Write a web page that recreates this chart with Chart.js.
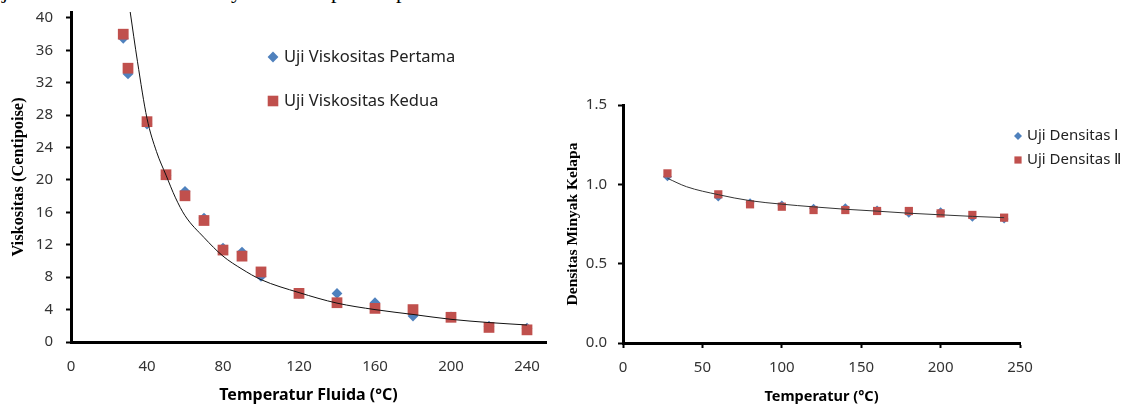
<!DOCTYPE html>
<html>
<head>
<meta charset="utf-8">
<script src="https://cdn.jsdelivr.net/npm/chart.js@4.4.1/dist/chart.umd.min.js"></script>
<style>
  body { margin: 0; background: #fff; width: 1126px; height: 407px; overflow: hidden; position: relative; }
  .box { position: absolute; top: 0; }
  .frag { position: absolute; top: -20px; font-family: "Liberation Serif", serif; font-size: 22px; line-height: 22px; color: #000; }
</style>
</head>
<body>
<!-- tail of the paragraph line above the figure -->
<span class="frag" style="left:2px">j</span>
<span class="frag" style="left:231px">y</span>
<span class="frag" style="left:331px">p</span>
<span class="frag" style="left:396px">p</span>

<div class="box" style="left:0"><canvas id="viscChart" width="560" height="407"></canvas></div>
<div class="box" style="left:560px"><canvas id="densChart" width="566" height="407"></canvas></div>

<script>
// viscosity test (left chart)
let viscTemp   = [27.5, 30, 40, 50, 60, 70, 80, 90, 100, 120, 140, 160, 180, 200, 220, 240];
let viscFirst  = [37.5, 33.1, 26.9, 20.6, 18.6, 15.3, 11.6, 11.1, 8.1, 6.0, 6.0, 4.85, 3.2, 3.1, 1.95, 1.7];
let viscSecond = [38.0, 33.8, 27.2, 20.65, 18.05, 15.0, 11.35, 10.6, 8.65, 6.0, 4.85, 4.15, 4.0, 3.05, 1.8, 1.5];
// trend curve
let viscFitTemp = [31, 35, 40, 45, 50, 55, 60, 70, 80, 90, 100, 120, 140, 160, 180, 200, 220, 240];
let viscFit     = [41.0, 34.6, 27.6, 23.5, 20.6, 17.8, 15.6, 12.9, 10.6, 9.0, 7.7, 6.1, 4.8, 4.0, 3.4, 2.8, 2.4, 2.1];
let viscXTicks = [0, 40, 80, 120, 160, 200, 240];

// density test (right chart)
let densTemp   = [28, 60, 80, 100, 120, 140, 160, 180, 200, 220, 240];
let densFirst  = [1.048, 0.92, 0.884, 0.87, 0.849, 0.853, 0.838, 0.817, 0.827, 0.792, 0.781];
let densSecond = [1.069, 0.937, 0.874, 0.859, 0.838, 0.838, 0.832, 0.832, 0.817, 0.807, 0.79];
let densFitTemp = [28, 40, 60, 80, 100, 120, 140, 160, 180, 200, 220, 240];
let densFit     = [1.038, 0.985, 0.935, 0.897, 0.875, 0.858, 0.843, 0.831, 0.818, 0.808, 0.798, 0.79];

const BLUE = "#4F81BD";
const RED = "#C0504D";
const TICK_FONT = { family: "Noto Sans", size: 15 };

function pairs(xs, ys) {
    return xs.map((x, i) => ({ x: x, y: ys[i] }));
}

function drawMarker(ctx, style, x, y, size, color) {
    ctx.fillStyle = color;
    ctx.beginPath();
    if (style === "rectRot") {
        ctx.moveTo(x, y - size);
        ctx.lineTo(x + size, y);
        ctx.lineTo(x, y + size);
        ctx.lineTo(x - size, y);
    } else {
        ctx.rect(x - size, y - size, size * 2, size * 2);
    }
    ctx.closePath();
    ctx.fill();
}

// legend placed at a fixed spot, like the Excel originals
const markerLegend = {
    id: "markerLegend",
    afterDraw(chart, args, opts) {
        const ctx = chart.ctx;
        ctx.save();
        let row = 0;
        chart.data.datasets.forEach(ds => {
            if (!ds.pointRadius) return;
            const y = opts.y + row * opts.gap;
            const size = ds.pointStyle === "rectRot" ? opts.diamond : opts.square;
            drawMarker(ctx, ds.pointStyle, opts.x, y, size, ds.backgroundColor);
            ctx.fillStyle = "#222";
            ctx.font = opts.fontSize + "px 'Noto Sans'";
            ctx.textBaseline = "middle";
            ctx.fillText(ds.label, opts.x + opts.textGap, y);
            row++;
        });
        ctx.restore();
    }
};

function axisBase(min, max, step) {
    return {
        type: "linear",
        min: min,
        max: max,
        border: { display: true, color: "#000", width: 3 },
        grid: { drawOnChartArea: false, drawTicks: true, tickLength: 5, tickColor: "#000", tickWidth: 2 },
        ticks: { stepSize: step, includeBounds: false, color: "#333", font: TICK_FONT }
    };
}

// ---- left: viscosity ----
let vx = axisBase(0, 250, 40);
vx.grid = { display: false, drawTicks: false };
vx.ticks.padding = 16;
vx.ticks.callback = v => viscXTicks.includes(v) ? v : "";
vx.title = { display: true, text: "Temperatur Fluida (°C)", color: "#000",
    font: { family: "Noto Sans", size: 16, weight: "bold" }, padding: { top: 0, bottom: 2 } };
vx.afterFit = s => { s.height = 65; };

let vy = axisBase(0, 40.74, 4);
vy.ticks.padding = 13;
vy.title = { display: true, text: "Viskositas (Centipoise)", color: "#000",
    font: { family: "Liberation Serif", size: 16.4, weight: "bold" }, padding: { top: 9, bottom: 0 } };
vy.afterFit = s => { s.width = 71; s.paddingTop = 0; s.paddingBottom = 0; };

new Chart(document.getElementById("viscChart"), {
    type: "scatter",
    data: {
        datasets: [
            { label: "Uji Viskositas Pertama", data: pairs(viscTemp, viscFirst), pointStyle: "rectRot",
              pointRadius: 5.4, backgroundColor: BLUE, borderWidth: 0, order: 2 },
            { label: "Uji Viskositas Kedua", data: pairs(viscTemp, viscSecond), pointStyle: "rect",
              pointRadius: 7.6, backgroundColor: RED, borderWidth: 0, order: 1 },
            { label: "fit", data: pairs(viscFitTemp, viscFit), showLine: true, pointRadius: 0,
              borderColor: "#111", borderWidth: 1, cubicInterpolationMode: "monotone", order: 0 }
        ]
    },
    options: {
        responsive: false,
        animation: false,
        devicePixelRatio: 1,
        layout: { padding: { left: 0, top: 12, right: 14, bottom: 0 } },
        scales: { x: vx, y: vy },
        plugins: {
            legend: { display: false },
            tooltip: { enabled: false },
            markerLegend: { x: 273, y: 57, gap: 44, diamond: 5.4, square: 5.3, textGap: 11, fontSize: 16.5 }
        }
    },
    plugins: [markerLegend]
});

// ---- right: density ----
let dx = axisBase(0, 250, 50);
dx.ticks.padding = 11;
dx.title = { display: true, text: "Temperatur (°C)", color: "#000",
    font: { family: "Noto Sans", size: 14.5, weight: "bold" }, padding: { top: 0, bottom: 1 } };
dx.afterFit = s => { s.height = 64; };

let dy = axisBase(0, 1.5, 0.5);
dy.ticks.padding = 11;
dy.ticks.callback = v => v.toFixed(1);
dy.title = { display: true, text: "Densitas Minyak Kelapa", color: "#000",
    font: { family: "Liberation Serif", size: 15.5, weight: "bold" }, padding: { top: 4, bottom: 0 } };
dy.afterFit = s => { s.width = 63; };

new Chart(document.getElementById("densChart"), {
    type: "scatter",
    data: {
        datasets: [
            { label: "Uji Densitas Ⅰ", data: pairs(densTemp, densFirst), pointStyle: "rectRot",
              pointRadius: 4.5, backgroundColor: BLUE, borderWidth: 0, order: 2 },
            { label: "Uji Densitas Ⅱ", data: pairs(densTemp, densSecond), pointStyle: "rect",
              pointRadius: 5.8, backgroundColor: RED, borderWidth: 0, order: 1 },
            { label: "fit", data: pairs(densFitTemp, densFit), showLine: true, pointRadius: 0,
              borderColor: "#333", borderWidth: 1, cubicInterpolationMode: "monotone", order: 0 }
        ]
    },
    options: {
        responsive: false,
        animation: false,
        devicePixelRatio: 1,
        layout: { padding: { left: 0, top: 105, right: 106, bottom: 0 } },
        scales: { x: dx, y: dy },
        plugins: {
            legend: { display: false },
            tooltip: { enabled: false },
            markerLegend: { x: 458, y: 136, gap: 24, diamond: 4, square: 3.6, textGap: 9, fontSize: 15 }
        }
    },
    plugins: [markerLegend]
});
</script>
</body>
</html>
